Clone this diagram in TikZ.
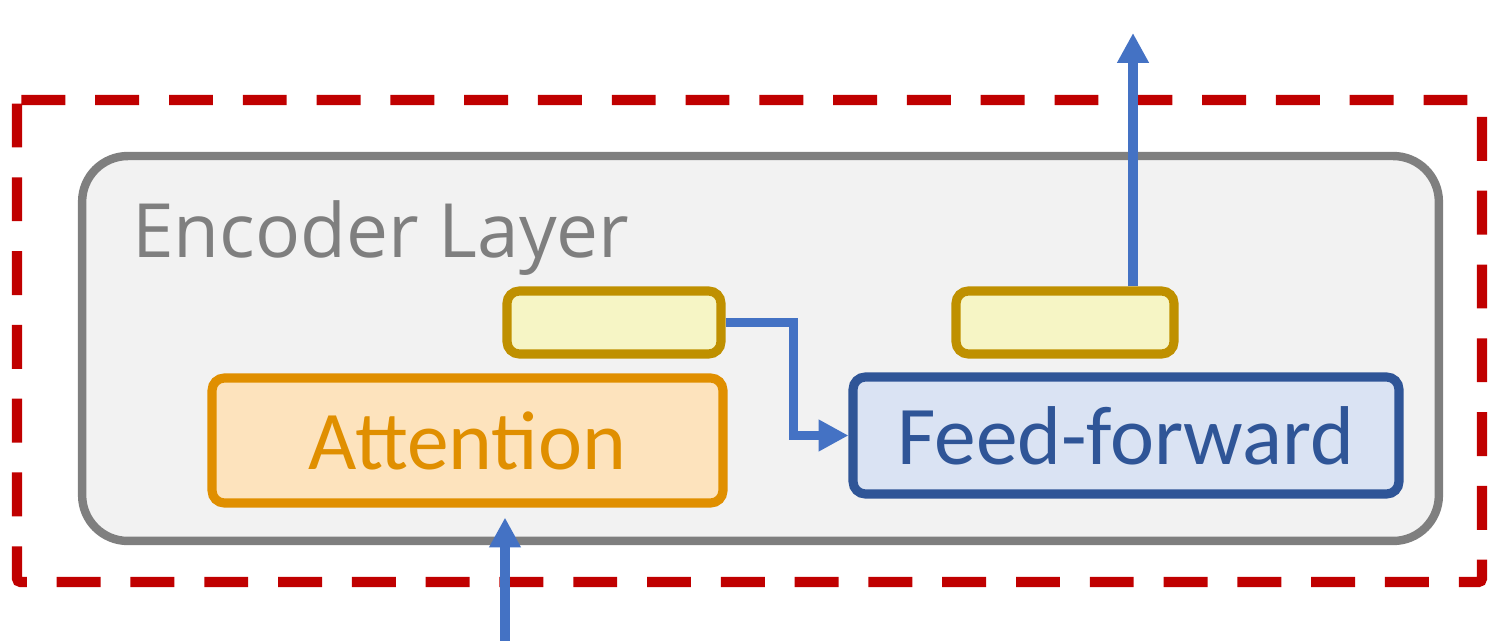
\documentclass[tikz,border=0pt]{standalone}
\usepackage{fontspec}
\setmainfont{Carlito}
\newfontfamily\layerfont{Open Sans}
\usepackage{tikz}
\usetikzlibrary{arrows.meta,calc}

\definecolor{frameRed}{HTML}{C00000}
\definecolor{layerGray}{HTML}{7F7F7F}
\definecolor{layerFill}{HTML}{F2F2F2}
\definecolor{normLine}{HTML}{BF9000}
\definecolor{normFill}{HTML}{F6F5C5}
\definecolor{attLine}{HTML}{E08F00}
\definecolor{attFill}{HTML}{FDE3BD}
\definecolor{ffLine}{HTML}{2F5597}
\definecolor{ffFill}{HTML}{DAE3F3}
\definecolor{flowBlue}{HTML}{4472C4}

\begin{document}
\begin{tikzpicture}[x=0.02cm,y=-0.02cm,
  box/.style={rectangle,rounded corners=7pt,line width=5.2pt,inner sep=0pt},
  flow/.style={-{Triangle[length=17pt,width=17pt]},draw=flowBlue,line width=5.4pt}]
\useasboundingbox (0,0) rectangle (1494,641);

% outer frame
\draw[frameRed,line width=5.8pt,dash pattern=on 25pt off 17pt,rounded corners=2pt]
  (17,100) rectangle (1482,582);

% layer
\node (enc) [box,draw=layerGray,fill=layerFill,rounded corners=26pt,line width=4.8pt,
  minimum width=27.14cm,minimum height=7.7cm] at (760.5,348.5) {};
\node (title) [anchor=base west,text=layerGray,font=\layerfont\fontsize{42.6}{50}\selectfont,inner sep=0pt]
  at (132,258) {Encoder Layer};

% blocks
\node (nrmA) [box,draw=normLine,fill=normFill,minimum width=4.28cm,minimum height=1.26cm] at (614,322.5) {};
\node (nrmB) [box,draw=normLine,fill=normFill,minimum width=4.36cm,minimum height=1.26cm] at (1065,322.5) {};
\node (attn) [box,draw=attLine,fill=attFill,text=attLine,minimum width=10.22cm,minimum height=2.5cm,
  font=\fontsize{47.5}{54}\selectfont] at (467.5,440.5) {Attention};
\node (ffn) [box,draw=ffLine,fill=ffFill,text=ffLine,minimum width=10.92cm,minimum height=2.34cm,
  font=\fontsize{47.5}{54}\selectfont] at (1126,435.5) {Feed-forward};

% connectors
\coordinate (in) at (505,641);
\coordinate (out) at (1133,33);
\draw[flow] (nrmA.east) -- ++(68,0) |- (ffn.west);
\draw[flow] (in) -- ($(in |- attn.south)+(0,10)$);
\draw[flow] (out |- nrmB.north) -- (out);
\end{tikzpicture}
\end{document}
